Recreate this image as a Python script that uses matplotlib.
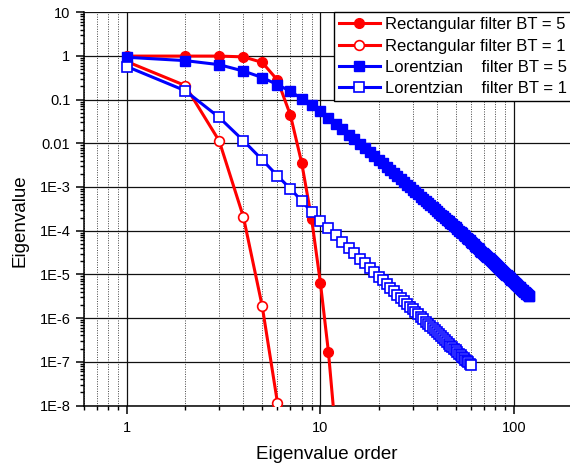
import numpy as np
import matplotlib
matplotlib.use("Agg")
import matplotlib.pyplot as plt
from matplotlib.ticker import LogLocator, FixedLocator, FuncFormatter, NullFormatter

plt.rcParams['font.family'] = ['Liberation Sans', 'DejaVu Sans']

# Eigenvalues
rect5 = [0.99, 0.99, 0.99, 0.95, 0.71, 0.28, 0.044, 0.0036, 1.9e-4, 6.4e-6, 1.7e-7, 2.2e-9]
rect1 = [0.74, 0.21, 0.0113, 2.06e-4, 1.9e-6, 1.15e-8]

lor5 = [0.93, 0.78, 0.63, 0.45, 0.32, 0.22, 0.155, 0.105, 0.075, 0.055,
        0.0387, 0.0280, 0.0208, 0.01585, 0.01227, 0.00966, 0.00773, 0.00625, 0.00511, 0.00423,
        0.00350, 0.00292, 0.00245, 0.00208, 0.00177, 0.00152, 0.00131, 0.00114, 9.94e-4, 8.71e-4,
        7.66e-4, 6.77e-4, 6.00e-4, 5.34e-4, 4.77e-4, 4.28e-4, 3.84e-4, 3.46e-4, 3.13e-4, 2.83e-4,
        2.57e-4, 2.34e-4, 2.14e-4, 1.95e-4, 1.79e-4, 1.64e-4, 1.51e-4, 1.39e-4, 1.28e-4, 1.19e-4,
        1.093e-4, 1.009e-4, 9.32e-5, 8.63e-5, 7.99e-5, 7.42e-5, 6.89e-5, 6.42e-5, 5.97e-5, 5.57e-5,
        5.21e-5, 4.86e-5, 4.55e-5, 4.26e-5, 4.00e-5, 3.75e-5, 3.52e-5, 3.32e-5, 3.12e-5, 2.94e-5,
        2.77e-5, 2.62e-5, 2.47e-5, 2.33e-5, 2.21e-5, 2.09e-5, 1.98e-5, 1.88e-5, 1.78e-5, 1.69e-5,
        1.60e-5, 1.52e-5, 1.45e-5, 1.38e-5, 1.31e-5, 1.25e-5, 1.19e-5, 1.14e-5, 1.08e-5, 1.04e-5,
        9.90e-6, 9.45e-6, 9.04e-6, 8.65e-6, 8.28e-6, 7.92e-6, 7.59e-6, 7.27e-6, 6.97e-6, 6.69e-6,
        6.42e-6, 6.16e-6, 5.92e-6, 5.69e-6, 5.46e-6, 5.25e-6, 5.05e-6, 4.86e-6, 4.68e-6, 4.50e-6,
        4.34e-6, 4.18e-6, 4.03e-6, 3.88e-6, 3.74e-6, 3.61e-6, 3.48e-6, 3.37e-6, 3.25e-6, 3.14e-6]

lor1 = [0.57, 0.16, 0.039, 0.0115, 0.0042, 0.0018, 9.1e-4, 4.8e-4, 2.7e-4, 1.7e-4,
        1.13e-4, 7.82e-5, 5.57e-5, 4.06e-5, 3.03e-5, 2.31e-5, 1.78e-5, 1.40e-5, 1.11e-5, 8.93e-6,
        7.26e-6, 5.96e-6, 4.93e-6, 4.11e-6, 3.46e-6, 2.93e-6, 2.49e-6, 2.14e-6, 1.84e-6, 1.59e-6,
        1.39e-6, 1.21e-6, 1.06e-6, 9.35e-7, 8.27e-7, 7.34e-7, 6.53e-7, 5.83e-7, 5.22e-7, 4.69e-7,
        4.22e-7, 3.81e-7, 3.45e-7, 3.13e-7, 2.84e-7, 2.59e-7, 2.36e-7, 2.16e-7, 1.98e-7, 1.82e-7,
        1.67e-7, 1.54e-7, 1.42e-7, 1.31e-7, 1.21e-7, 1.12e-7, 1.04e-7, 9.67e-8, 8.99e-8, 8.37e-8]

labels = ["Rectangular filter BT = 5", "Rectangular filter BT = 1",
          "Lorentzian    filter BT = 5", "Lorentzian    filter BT = 1"]

fig = plt.figure(figsize=(5.7, 4.68), dpi=100)
ax = fig.add_axes([84 / 570, 1 - 405.5 / 468, (570 - 84) / 570, (405.5 - 12.2) / 468])

red = '#ff0000'
blue = '#0000ff'
lw = 2.2

ax.plot(np.arange(1, len(rect5) + 1), rect5, '-o', color=red, lw=lw, ms=7,
        mfc=red, mec=red, label=labels[0], zorder=3)
ax.plot(np.arange(1, len(rect1) + 1), rect1, '-o', color=red, lw=lw, ms=7,
        mfc='white', mec=red, mew=1.2, label=labels[1], zorder=3)
ax.plot(np.arange(1, len(lor5) + 1), lor5, '-s', color=blue, lw=lw, ms=7,
        mfc=blue, mec=blue, label=labels[2], zorder=3)
ax.plot(np.arange(1, len(lor1) + 1), lor1, '-s', color=blue, lw=lw, ms=6.6,
        mfc='white', mec=blue, mew=1.2, label=labels[3], zorder=3)

ax.set_xscale('log')
ax.set_yscale('log')
ax.set_xlim(0.6, 195)
ax.set_ylim(1e-8, 10)

ax.xaxis.set_major_locator(FixedLocator([1, 10, 100]))
ax.xaxis.set_major_formatter(FuncFormatter(lambda v, p: f"{v:g}"))
ax.xaxis.set_minor_locator(LogLocator(base=10, subs=np.arange(2, 10), numticks=20))
ax.xaxis.set_minor_formatter(NullFormatter())


def yfmt(v, p):
    if v >= 0.01:
        return f"{v:g}"
    return "1E%d" % int(round(np.log10(v)))


ax.yaxis.set_major_locator(FixedLocator([10.0 ** k for k in range(-8, 2)]))
ax.yaxis.set_major_formatter(FuncFormatter(yfmt))
ax.yaxis.set_minor_locator(LogLocator(base=10, subs=np.arange(2, 10), numticks=20))
ax.yaxis.set_minor_formatter(NullFormatter())

ax.grid(which='major', axis='both', color='#111111', lw=0.9, ls='-', zorder=0)
ax.grid(which='minor', axis='x', color='#444444', lw=0.7, ls=(0, (1, 1.5)), zorder=0)
ax.set_axisbelow(True)

for s in ['top', 'right']:
    ax.spines[s].set_visible(False)
for s in ['left', 'bottom']:
    ax.spines[s].set_linewidth(1.1)

ax.tick_params(which='major', direction='out', length=5.8, width=1.1, labelsize=10.5, pad=4)
ax.tick_params(which='minor', direction='out', length=3, width=1.0)
ax.tick_params(axis='x', which='major', pad=5.5)

ax.set_xlabel("Eigenvalue order", fontsize=13.5, labelpad=8)
ax.set_ylabel("Eigenvalue", fontsize=13.5)
ax.yaxis.set_label_coords(-0.115, 0.47)

leg = ax.legend(loc='upper left', bbox_to_anchor=(0.514, 1.0), fontsize=12,
                frameon=True, fancybox=False, edgecolor='black', framealpha=1,
                borderaxespad=0, borderpad=0.3, labelspacing=0.38,
                handlelength=2.45, handletextpad=0.3, numpoints=1)
leg.get_frame().set_linewidth(1.0)

fig.savefig("out.png", dpi=100)
